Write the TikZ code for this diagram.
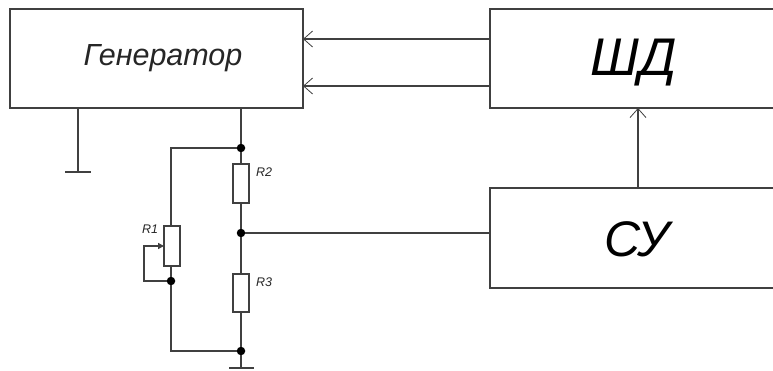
\documentclass[tikz,border=0pt]{standalone}
\usepackage{fontspec}
\setmainfont{Liberation Sans}
\usetikzlibrary{arrows.meta}
\tikzset{
  blockbox/.style={draw=black!75,line width=1.5pt,anchor=north west,inner sep=0pt,outer sep=0pt},
  resbox/.style={draw=black!75,line width=1.3pt,fill=white,minimum width=16pt,inner sep=0pt,outer sep=0pt,anchor=north west},
  wire/.style={draw=black!75,line width=1.4pt},
  dotnode/.style={circle,fill=black,inner sep=0pt,minimum size=8.5pt},
  lab/.style={font=\itshape,inner sep=0pt,text=black!85},
  openarrow/.style={wire,-{Straight Barb[length=9pt,width=16pt,line width=0.8pt]}},
  solidarrow/.style={wire,-{Triangle[length=6pt,width=6pt]}}
}
\begin{document}
\begin{tikzpicture}[x=1pt,y=-1pt]
\useasboundingbox (0,0) rectangle (773,371);
\clip (0,0) rectangle (773,371);
\fill[white] (0,0) rectangle (773,371);
% blocks (the two on the right run off the edge of the page)
\node[blockbox,minimum width=293pt,minimum height=99pt] (gen) at (10,9) {};
\node[blockbox,minimum width=300pt,minimum height=99pt] (shd) at (490,9) {};
\node[blockbox,minimum width=300pt,minimum height=100pt] (su) at (490,188) {};
\node[lab,font=\itshape\fontsize{30.5}{30.5}\selectfont] (gentext) at (163,58) {Генератор};
\node[lab,text=black,font=\itshape\fontsize{53}{53}\selectfont] (shdtext) at (634,63) {ШД};
\node[lab,text=black,font=\itshape\fontsize{50}{50}\selectfont] (sutext) at (637,239) {СУ};
% resistors
\node[resbox,minimum height=39pt] (r2) at (233,164) {};
\node[resbox,minimum height=38pt] (r3) at (233,274) {};
\node[resbox,minimum height=40pt] (r1) at (164,226) {};
\node[lab,font=\itshape\fontsize{12.5}{12.5}\selectfont] (r1text) at (150,229) {R1};
\node[lab,font=\itshape\fontsize{12.5}{12.5}\selectfont] (r2text) at (264,172) {R2};
\node[lab,font=\itshape\fontsize{12.5}{12.5}\selectfont] (r3text) at (264,282) {R3};
% junctions
\node[dotnode] (j1) at (241,148) {};
\node[dotnode] (j2) at (241,233) {};
\node[dotnode] (j3) at (241,351) {};
\node[dotnode] (j4) at (171,281) {};
% free points
\coordinate (genout) at (241,108);
\coordinate (gndgen) at (78,108);
\coordinate (gndgenb) at (78,172);
\coordinate (gl) at (65,172); \coordinate (gr) at (91,172);
\coordinate (g3) at (241,368);
\coordinate (g3l) at (229,368); \coordinate (g3r) at (254,368);
\coordinate (a1s) at (490,39); \coordinate (a1e) at (303,39);
\coordinate (a2s) at (490,86); \coordinate (a2e) at (303,86);
\coordinate (a3s) at (638,188); \coordinate (a3e) at (638,108);
\coordinate (sul) at (490,233);
\coordinate (tl) at (171,148);
\coordinate (bl) at (171,351);
\coordinate (r1top) at (171,226);
\coordinate (r1bot) at (171,266);
\coordinate (w1) at (144,281);
\coordinate (w2) at (144,246);
\coordinate (w3) at (164,246);
% wires
\draw[wire] (genout) -- (j1) -- (r2.north);
\draw[wire] (r2.south) -- (j2) -- (r3.north);
\draw[wire] (r3.south) -- (j3) -- (g3);
\draw[wire] (g3l) -- (g3r);
\draw[wire] (j2) -- (sul);
\draw[wire] (j1) -- (tl) -- (r1top);
\draw[wire] (r1bot) -- (j4) -- (bl) -- (j3);
\draw[solidarrow] (j4) -- (w1) -- (w2) -- (w3);
\draw[wire] (gndgen) -- (gndgenb);
\draw[wire] (gl) -- (gr);
\draw[openarrow] (a1s) -- (a1e);
\draw[openarrow] (a2s) -- (a2e);
\draw[openarrow] (a3s) -- (a3e);
\end{tikzpicture}
\end{document}
